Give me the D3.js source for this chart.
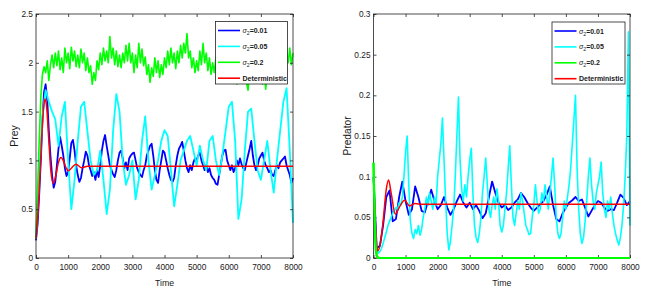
<!DOCTYPE html>
<html>
<head>
<meta charset="utf-8">
<script src="https://cdn.jsdelivr.net/npm/d3@7"></script>
<style>
  body { margin: 0; background: #fff; }
  svg text { font-family: "Liberation Sans", Arial, Helvetica, sans-serif; fill: #1a1a1a; }
</style>
</head>
<body>
<svg id="chart" width="645" height="292"></svg>
<script>
// ---- data ----
const timeTicks = [0, 1000, 2000, 3000, 4000, 5000, 6000, 7000, 8000];
const preyTicks = [0, 0.5, 1, 1.5, 2, 2.5];
const predTicks = [0, 0.05, 0.1, 0.15, 0.2, 0.25, 0.3];
const seriesNames = ['0.01', '0.05', '0.2', 'Deterministic'];
const seriesColors = ['#0000ff', '#00ffff', '#00ff00', '#ff0000'];

// sampling grids of the stochastic runs
const time50 = d3.range(0, 8001, 50);
const time100 = d3.range(0, 8001, 100);

// prey, sigma2 = 0.01 (every 50)
const preyBlue = [
  0.18, 0.35, 0.65, 1.0, 1.4, 1.7, 1.78, 1.62, 1.3, 1.05, 0.85, 0.72, 0.78, 0.95, 1.12, 1.24, 1.15, 1.05, 0.92, 0.84,
  0.88, 1.02, 1.18, 1.21, 1.1, 0.95, 0.85, 0.78, 0.82, 0.92, 1.0, 1.09, 1.05, 0.95, 0.9, 0.84, 0.88, 0.8, 0.9, 0.83,
  0.95, 1.1, 1.2, 1.26, 1.15, 1.05, 0.95, 0.9, 0.86, 0.83, 0.9, 1.0, 1.08, 1.1, 1.02, 0.92, 0.98, 0.9, 1.02, 1.05,
  1.07, 1.08, 1.0, 0.92, 0.88, 0.85, 0.83, 0.9, 0.95, 1.05, 1.1, 1.15, 1.17, 1.05, 0.9, 0.8, 0.77, 0.9, 1.0, 1.1,
  1.08, 1.0, 0.92, 0.85, 0.8, 0.78, 0.82, 0.95, 1.05, 1.12, 1.15, 1.19, 1.1, 1.0, 0.92, 0.88, 0.95, 0.9, 0.98, 1.02,
  1.0, 1.05, 1.08, 1.0, 0.95, 0.9, 0.95, 0.88, 0.92, 0.85, 0.82, 0.8, 0.76, 0.75, 0.85, 0.95, 1.05, 1.1, 1.11, 1.0,
  0.95, 0.9, 0.95, 0.88, 0.92, 1.0, 0.95, 1.02, 0.96, 0.92, 0.9, 0.98, 1.05, 1.12, 1.2, 1.05, 0.95, 0.9, 0.95, 1.02,
  1.05, 1.08, 1.0, 0.95, 0.92, 0.88, 0.9, 0.85, 0.84, 0.9, 0.95, 0.92, 0.98, 1.0, 1.02, 1.04, 0.95, 0.9, 0.85, 0.77,
  0.82
];

// prey, sigma2 = 0.05 (every 100)
const preyCyan = [
  0.2, 0.85, 1.45, 1.72, 1.6, 1.5, 1.42, 1.15, 1.45, 1.6,
  1.0, 0.5, 0.8, 1.2, 1.55, 1.6, 1.3, 1.0, 0.85, 0.9,
  1.1, 0.8, 0.45, 0.7, 1.3, 1.68, 1.5, 1.0, 0.75, 0.85,
  1.0, 0.6, 0.8, 1.2, 1.45, 1.0, 0.7, 0.85, 1.0, 1.2,
  1.31, 1.25, 0.9, 0.53, 0.75, 1.0, 1.1, 1.2, 1.25, 1.1,
  0.95, 1.15, 1.0, 0.9, 1.2, 1.25, 1.0, 0.85, 1.05, 1.3,
  1.55, 1.6, 1.2, 0.4, 0.6, 1.1, 1.5, 1.53, 1.2, 0.9,
  0.8, 1.0, 1.2, 0.9, 0.67, 1.0, 1.3, 1.6, 1.74, 1.1,
  0.36
];

// prey, sigma2 = 0.2 (every 50)
const preyGreen = [
  0.2, 0.7, 1.2, 1.65, 1.88, 1.96, 1.9, 2.02, 1.82, 1.98, 2.08, 1.95, 2.1, 1.97, 2.12, 1.93, 2.05, 1.9, 2.15, 2.0,
  2.1, 1.94, 2.16, 2.02, 2.12, 1.96, 2.08, 1.95, 2.14, 2.0, 2.1, 1.92, 2.05, 1.9, 1.97, 1.78, 1.9, 1.82, 2.02, 1.93,
  2.1, 1.98, 2.15, 2.02, 2.12, 2.0, 2.27, 2.05, 2.15, 1.98, 2.12, 1.96, 2.08, 1.95, 2.1, 2.0, 2.18, 2.02, 2.2, 2.0,
  2.1, 1.9, 2.08, 1.95, 2.2, 2.0, 2.14, 1.97, 2.06, 1.88, 1.98, 1.8, 1.95, 1.86, 2.05, 1.9, 2.02, 1.85, 1.98, 1.88,
  2.05, 1.95, 2.12, 1.98, 2.15, 2.0, 2.1, 1.94, 2.12, 2.0, 2.18, 2.05, 2.2, 2.1, 2.3, 2.05, 2.12, 1.95, 2.05, 1.9,
  2.02, 1.92, 2.12, 1.98, 2.2, 2.0, 2.1, 1.92, 2.05, 1.88, 2.0, 1.9, 2.05, 1.85, 2.02, 1.9, 2.1, 1.95, 2.05, 1.88,
  2.0, 1.86, 1.98, 1.84, 1.95, 1.78, 1.92, 1.8, 1.95, 1.85, 2.0, 1.8, 1.72, 1.9, 1.82, 1.98, 1.85, 2.0, 1.88, 1.8,
  1.92, 1.78, 1.95, 1.73, 1.9, 1.82, 2.0, 1.9, 2.05, 1.92, 2.08, 1.95, 2.1, 1.98, 2.05, 1.95, 2.12, 2.0, 2.15, 1.98,
  2.1
];

// prey, deterministic
const preyRedTime = [0, 50, 100, 150, 200, 250, 290, 330, 400, 460, 540, 620, 700, 780, 860, 940, 1010, 1100, 1245, 1420, 1600, 8000];
const preyRed = [0.2, 0.4, 0.7, 1.05, 1.38, 1.58, 1.63, 1.55, 1.2, 0.9, 0.765, 0.85, 0.98, 1.03, 0.99, 0.92, 0.895, 0.92, 0.96, 0.925, 0.94, 0.94];

// predator, sigma2 = 0.01 (every 100)
const predBlue = [
  0.1, 0.012, 0.015, 0.04, 0.075, 0.083, 0.045, 0.048, 0.075, 0.094,
  0.07, 0.053, 0.06, 0.088, 0.075, 0.058, 0.056, 0.07, 0.084, 0.07,
  0.06, 0.065, 0.075, 0.062, 0.053, 0.06, 0.07, 0.078, 0.068, 0.062,
  0.068, 0.06, 0.065, 0.058, 0.049, 0.055, 0.075, 0.094, 0.08, 0.068,
  0.062, 0.065, 0.059, 0.062, 0.068, 0.072, 0.08, 0.075, 0.068, 0.062,
  0.058, 0.062, 0.066, 0.07, 0.078, 0.088, 0.065, 0.048, 0.045, 0.055,
  0.062, 0.068, 0.071, 0.075, 0.07, 0.072, 0.062, 0.051, 0.058, 0.065,
  0.07, 0.068, 0.062, 0.058, 0.06, 0.059, 0.068, 0.078, 0.074, 0.065,
  0.07
];

// predator, sigma2 = 0.05 (every 50)
const predCyan = [
  0.1, 0.04, 0.012, 0.006, 0.008, 0.012, 0.018, 0.025, 0.032, 0.04, 0.045, 0.05, 0.055, 0.058, 0.062, 0.06, 0.068, 0.065, 0.075, 0.1,
  0.13, 0.15, 0.09, 0.045, 0.03, 0.024, 0.035, 0.03, 0.04, 0.028, 0.035, 0.05, 0.06, 0.075, 0.065, 0.08, 0.07, 0.06, 0.075, 0.065,
  0.1, 0.12, 0.14, 0.172, 0.12, 0.07, 0.03, 0.01, 0.02, 0.04, 0.06, 0.1, 0.15, 0.198, 0.12, 0.085, 0.07, 0.09, 0.075, 0.1,
  0.12, 0.135, 0.08, 0.04, 0.025, 0.019, 0.03, 0.05, 0.08, 0.1, 0.123, 0.09, 0.06, 0.05, 0.065, 0.075, 0.06, 0.085, 0.07, 0.04,
  0.032, 0.04, 0.06, 0.08, 0.11, 0.138, 0.09, 0.05, 0.04, 0.055, 0.07, 0.06, 0.08, 0.07, 0.055, 0.04, 0.035, 0.029, 0.03, 0.05,
  0.065, 0.09, 0.07, 0.055, 0.06, 0.08, 0.07, 0.09, 0.075, 0.06, 0.08, 0.1, 0.123, 0.09, 0.05, 0.03, 0.024, 0.03, 0.05, 0.07,
  0.06, 0.075, 0.09, 0.11, 0.14, 0.17, 0.2, 0.11, 0.06, 0.03, 0.018, 0.025, 0.045, 0.07, 0.1, 0.123, 0.09, 0.07, 0.06, 0.08,
  0.09, 0.1, 0.118, 0.08, 0.06, 0.05, 0.07, 0.06, 0.075, 0.055, 0.04, 0.03, 0.022, 0.016, 0.025, 0.04, 0.065, 0.1, 0.15, 0.278,
  0.04
];

// predator, sigma2 = 0.2 (dies out)
const predGreenTime = [0, 25, 50, 75, 100, 150, 8000];
const predGreen = [0.117, 0.07, 0.03, 0.01, 0.003, 0, 0];

// predator, deterministic
const predRedTime = [0, 50, 100, 135, 200, 300, 400, 470, 550, 680, 800, 970, 1125, 1300, 1500, 8000];
const predRed = [0.098, 0.05, 0.015, 0.009, 0.015, 0.045, 0.085, 0.096, 0.08, 0.054, 0.062, 0.071, 0.064, 0.067, 0.066, 0.066];

// ---- drawing ----
const svg = d3.select('#chart');
const TOP = 14;
const BOTTOM = 258;
const TICK = 3;

const zip = (ts, vs) => vs.map((v, i) => [ts[i], v]).filter(d => d[0] !== undefined);

function drawPanel(cfg) {
  const x = d3.scaleLinear().domain([0, 8000]).range([cfg.left, cfg.right]);
  const y = d3.scaleLinear().domain([0, cfg.yMax]).range([BOTTOM, TOP]);
  const g = svg.append('g');

  g.append('rect')
    .attr('x', cfg.left).attr('y', TOP)
    .attr('width', cfg.right - cfg.left).attr('height', BOTTOM - TOP)
    .attr('fill', '#fff');

  const line = d3.line().x(d => x(d[0])).y(d => y(d[1]));
  const smooth = d3.line().curve(d3.curveMonotoneX).x(d => x(d[0])).y(d => y(d[1]));

  cfg.series.forEach((s, i) => {
    g.append('path')
      .attr('d', (s.smooth ? smooth : line)(zip(s.t, s.v)))
      .attr('fill', 'none')
      .attr('stroke', seriesColors[i])
      .attr('stroke-width', s.w)
      .attr('stroke-linejoin', 'round');
  });

  const styleAxis = sel => {
    sel.select('.domain').remove();
    sel.selectAll('line').attr('stroke', '#222').attr('stroke-width', 0.8);
    sel.selectAll('text').attr('font-size', 8.3).attr('fill', '#1a1a1a');
  };

  g.append('g').attr('transform', `translate(0,${BOTTOM})`)
    .call(d3.axisBottom(x).tickValues(timeTicks).tickFormat(d3.format('d'))
      .tickSizeInner(-TICK).tickSizeOuter(0).tickPadding(6.5))
    .call(styleAxis);
  g.append('g').attr('transform', `translate(0,${TOP})`)
    .call(d3.axisTop(x).tickValues(timeTicks).tickFormat('')
      .tickSizeInner(-TICK).tickSizeOuter(0))
    .call(styleAxis);
  g.append('g').attr('transform', `translate(${cfg.left},0)`)
    .call(d3.axisLeft(y).tickValues(cfg.ticks).tickFormat(d => String(d))
      .tickSizeInner(-TICK).tickSizeOuter(0).tickPadding(3))
    .call(styleAxis);
  g.append('g').attr('transform', `translate(${cfg.right},0)`)
    .call(d3.axisRight(y).tickValues(cfg.ticks).tickFormat('')
      .tickSizeInner(-TICK).tickSizeOuter(0))
    .call(styleAxis);

  g.append('rect')
    .attr('x', cfg.left).attr('y', TOP)
    .attr('width', cfg.right - cfg.left).attr('height', BOTTOM - TOP)
    .attr('fill', 'none').attr('stroke', '#222').attr('stroke-width', 0.8);

  // green extinct line sits on the bottom edge, over the frame
  if (cfg.redrawLast) {
    const s = cfg.series[cfg.redrawLast];
    g.append('path')
      .attr('d', line(zip(s.t, s.v)))
      .attr('fill', 'none').attr('stroke', seriesColors[cfg.redrawLast])
      .attr('stroke-width', s.w);
  }

  g.append('text')
    .attr('x', (cfg.left + cfg.right) / 2).attr('y', 286)
    .attr('text-anchor', 'middle').attr('font-size', 8.8)
    .text('Time');

  g.append('text')
    .attr('transform', `translate(${cfg.labelX},${(TOP + BOTTOM) / 2}) rotate(-90)`)
    .attr('text-anchor', 'middle').attr('dy', '0.35em')
    .attr('font-size', cfg.labelSize)
    .text(cfg.label);

  // legend
  const L = cfg.legend;
  const lg = g.append('g');
  lg.append('rect')
    .attr('x', L.x).attr('y', L.y).attr('width', L.w).attr('height', L.h)
    .attr('fill', '#fff').attr('stroke', '#222').attr('stroke-width', 0.8);
  seriesNames.forEach((name, i) => {
    const cy = L.y + 9 + i * 15.9;
    lg.append('line')
      .attr('x1', L.x + 2.5).attr('x2', L.x + 24.5)
      .attr('y1', cy).attr('y2', cy)
      .attr('stroke', seriesColors[i]).attr('stroke-width', 1.6);
    const t = lg.append('text')
      .attr('x', L.x + 27).attr('y', cy + 2.5)
      .attr('font-size', 7).attr('font-weight', 'bold');
    if (name === 'Deterministic') {
      t.text(name);
    } else {
      t.append('tspan').attr('font-style', 'italic').attr('font-weight', 'normal')
        .attr('font-size', 7).text('σ');
      t.append('tspan').attr('font-weight', 'normal').attr('font-size', 5.2)
        .attr('dy', 2).text('2');
      t.append('tspan').attr('dy', -2).text('=' + name);
    }
  });
}

drawPanel({
  left: 36, right: 293, yMax: 2.5, ticks: preyTicks,
  label: 'Prey', labelX: 14, labelSize: 10.5,
  legend: { x: 215.5, y: 21.5, w: 72, h: 62.5 },
  series: [
    { t: time50, v: preyBlue, w: 1.8 },
    { t: time100, v: preyCyan, w: 1.8 },
    { t: time50, v: preyGreen, w: 1.6 },
    { t: preyRedTime, v: preyRed, w: 1.5, smooth: true }
  ]
});

drawPanel({
  left: 373.5, right: 630, yMax: 0.3, ticks: predTicks,
  label: 'Predator', labelX: 347, labelSize: 10.2,
  legend: { x: 552, y: 22, w: 73, h: 62 },
  redrawLast: 2,
  series: [
    { t: time100, v: predBlue, w: 1.8 },
    { t: time50, v: predCyan, w: 1.6 },
    { t: predGreenTime, v: predGreen, w: 2.2 },
    { t: predRedTime, v: predRed, w: 1.5, smooth: true }
  ]
});
</script>
</body>
</html>
